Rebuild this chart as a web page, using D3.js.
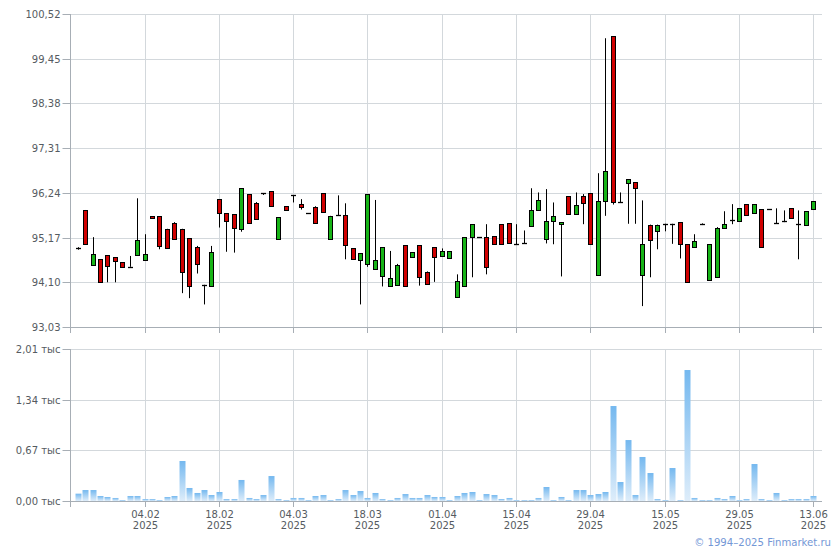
<!DOCTYPE html>
<html>
<head>
<meta charset="utf-8">
<script src="https://cdn.jsdelivr.net/npm/d3@7"></script>
<style>
  html, body { margin: 0; padding: 0; background: #fff; }
  svg text { font-family: "DejaVu Sans", Verdana, sans-serif; }
</style>
</head>
<body>
<svg id="chart" width="840" height="550"></svg>
<script>
// ---------- DATA ----------
const dates = [
  "22.01","23.01","24.01","27.01","28.01","29.01","30.01","31.01",
  "03.02","04.02","05.02","06.02","07.02","10.02","11.02","12.02","13.02","14.02","17.02","18.02",
  "19.02","20.02","21.02","24.02","25.02","26.02","27.02","28.02",
  "03.03","04.03","05.03","06.03","07.03","10.03","11.03","12.03","13.03","14.03","17.03","18.03",
  "19.03","20.03","21.03","24.03","25.03","26.03","27.03","28.03","31.03",
  "01.04","02.04","03.04","04.04","07.04","08.04","09.04","10.04","11.04","14.04","15.04",
  "16.04","17.04","18.04","21.04","22.04","23.04","24.04","25.04","28.04","29.04","30.04",
  "02.05","05.05","06.05","07.05","08.05","12.05","13.05","14.05","15.05",
  "16.05","19.05","20.05","21.05","22.05","23.05","26.05","27.05","28.05","29.05","30.05",
  "02.06","03.06","04.06","05.06","06.06","09.06","10.06","11.06","13.06"
];
const openV = [
  94.92,95.83,94.51,94.65,94.75,94.70,94.58,94.48,94.75,94.63,
  95.68,95.68,95.38,95.51,95.38,95.16,94.94,94.04,94.00,96.09,
  95.75,95.73,95.37,96.21,95.99,96.23,96.28,95.13,95.92,96.18,
  95.97,95.75,95.89,96.23,95.13,95.70,95.70,94.91,94.63,94.53,
  94.41,94.24,94.00,94.03,94.99,94.70,94.99,94.34,94.94,94.72,
  94.68,93.74,94.00,95.18,95.18,95.18,95.20,95.49,95.51,95.01,
  95.03,95.44,95.82,95.13,95.56,95.49,96.16,95.73,96.16,96.23,
  94.27,96.04,99.99,96.01,96.47,96.49,94.27,95.48,95.32,95.50,
  95.50,95.54,95.01,94.94,95.49,94.15,94.22,95.39,95.58,95.56,
  95.97,95.75,95.85,95.85,95.51,95.56,95.87,95.50,95.46,95.85
];
const highV = [
  94.94,95.83,95.18,94.65,94.75,94.70,94.58,94.73,96.11,95.25,
  95.68,95.68,95.38,95.54,95.38,95.16,94.97,94.04,94.97,96.09,
  95.75,95.73,96.35,96.21,96.02,96.23,96.28,95.66,95.92,96.18,
  96.09,95.75,95.92,96.23,95.69,96.18,95.99,94.91,94.79,96.21,
  96.07,94.94,94.85,94.54,94.99,94.82,94.99,94.36,94.94,94.91,
  94.84,94.29,95.18,95.49,95.18,95.49,95.20,95.49,95.51,95.49,
  95.34,96.35,96.25,96.33,96.01,95.54,96.16,96.25,96.21,96.23,
  96.71,99.94,99.99,96.25,96.56,96.49,96.06,95.48,95.48,95.50,
  95.50,95.54,95.01,95.25,95.51,95.01,95.42,95.80,95.97,95.87,
  95.97,95.97,95.85,95.85,95.87,95.82,95.87,95.82,95.80,96.04
];
const lowV = [
  94.88,95.01,94.51,94.10,94.10,94.10,94.47,94.47,94.75,94.63,
  95.63,94.89,94.91,95.13,93.84,93.72,94.31,93.57,94.00,95.41,
  94.83,94.81,95.31,95.51,95.61,96.19,95.93,95.13,95.84,96.01,
  95.84,95.75,95.51,95.79,95.13,95.70,94.65,94.65,93.57,94.47,
  94.41,94.00,94.00,94.03,94.00,94.70,94.02,94.05,94.11,94.72,
  94.68,93.74,94.00,94.22,95.18,94.29,95.01,95.01,95.05,95.01,
  95.03,95.44,95.82,95.03,95.01,94.24,95.73,95.73,95.49,95.01,
  94.27,95.69,95.96,96.01,95.50,95.50,93.53,94.22,94.89,95.32,
  95.02,94.67,94.11,94.94,95.47,94.15,94.22,95.39,95.49,95.56,
  95.70,95.75,94.94,95.85,95.51,95.54,95.63,94.65,95.46,95.85
];
const closeV = [
  94.91,95.01,94.77,94.10,94.49,94.61,94.47,94.47,95.10,94.77,
  95.63,94.96,94.91,95.13,94.35,94.00,94.53,94.04,94.82,95.75,
  95.56,95.39,96.35,95.51,95.61,96.23,95.93,95.66,95.84,96.18,
  95.89,95.75,95.51,95.79,95.69,95.70,94.99,94.65,94.79,96.21,
  94.63,94.94,94.20,94.51,94.00,94.82,94.23,94.05,94.70,94.84,
  94.84,94.12,95.18,95.49,95.18,94.46,95.01,95.01,95.05,95.01,
  95.03,95.82,96.06,95.56,95.68,95.54,95.73,95.94,95.99,95.01,
  96.04,96.76,96.02,96.01,96.56,96.35,95.01,95.10,95.48,95.50,
  95.50,95.01,94.11,95.08,95.49,95.01,95.39,95.49,95.58,95.87,
  95.70,95.97,94.94,95.85,95.51,95.56,95.63,95.50,95.80,96.04
];
const volumeV = [
  97,145,145,66,53,40,13,66,66,26,
  26,13,53,66,529,172,106,145,79,119,
  26,26,278,40,26,79,330,26,13,40,
  40,13,66,79,13,26,145,79,132,40,
  106,26,13,40,92,40,40,79,53,53,
  13,66,106,119,13,92,79,26,40,13,
  13,13,40,185,13,53,13,145,145,79,
  92,119,1256,251,806,79,582,370,26,13,
  436,13,1732,40,13,13,40,26,66,13,
  26,489,26,13,106,13,26,26,26,66
];
const priceTicks = [93.03, 94.10, 95.17, 96.24, 97.31, 98.38, 99.45, 100.52];
const volumeTicks = [0, 670, 1340, 2010];
const xTickDates = ["04.02","18.02","04.03","18.03","01.04","15.04","29.04","15.05","29.05","13.06"];
const tickYear = "2025";

// ---------- LAYOUT ----------
const svg = d3.select("#chart");
const left = 70, right = 822;
const pTop = 14, pBottom = 327;
const vTop = 349, vBottom = 501;
const gridColor = "#d3d8dc";
const axisColor = "#a7aeb5";
const textColor = "#555b61";

const x = d3.scalePoint().domain(dates).range([77.7, 813.3]);
const yP = d3.scaleLinear().domain([93.03, 100.52]).range([pBottom, pTop]);
const yV = d3.scaleLinear().domain([0, 2010]).range([vBottom, vTop]);

const fmt2 = d3.format(".2f");
const comma = v => fmt2(v).replace(".", ",");

// gradient for volume bars
const defs = svg.append("defs");
const grad = defs.append("linearGradient").attr("id", "vgrad")
  .attr("x1", 0).attr("y1", 0).attr("x2", 0).attr("y2", 1);
grad.append("stop").attr("offset", "0%").attr("stop-color", "#74b8ef");
grad.append("stop").attr("offset", "100%").attr("stop-color", "#deedfa");

// ---------- GRIDS ----------
function grid(yScale, ticks, y0, y1) {
  const g = svg.append("g");
  g.selectAll("line.h").data(ticks).join("line")
    .attr("x1", left).attr("x2", right)
    .attr("y1", d => Math.round(yScale(d)) + 0.5).attr("y2", d => Math.round(yScale(d)) + 0.5)
    .attr("stroke", gridColor);
  g.selectAll("line.v").data(xTickDates).join("line")
    .attr("x1", d => Math.round(x(d)) + 0.5).attr("x2", d => Math.round(x(d)) + 0.5)
    .attr("y1", y0).attr("y2", y1)
    .attr("stroke", gridColor);
}
grid(yP, priceTicks, pTop, pBottom);
grid(yV, volumeTicks, vTop, vBottom);

// ---------- AXES ----------
function leftAxis(yScale, ticks, fmt, y0, y1) {
  const ax = d3.axisLeft(yScale).tickValues(ticks).tickFormat(fmt).tickSize(8).tickPadding(2);
  const g = svg.append("g").attr("transform", `translate(${left + 0.5},0)`).call(ax);
  g.select(".domain").remove();
  g.selectAll(".tick line").attr("stroke", axisColor);
  g.selectAll(".tick").attr("transform", d => `translate(0,${Math.round(yScale(d)) + 0.5})`);
  g.selectAll("text").attr("fill", textColor).style("font-size", "10px")
    .style("font-family", "'DejaVu Sans', Verdana, sans-serif");
  svg.append("line").attr("x1", left + 0.5).attr("x2", left + 0.5)
    .attr("y1", y0).attr("y2", y1 + 6).attr("stroke", axisColor);
}
leftAxis(yP, priceTicks, comma, pTop, pBottom);
leftAxis(yV, volumeTicks, v => comma(v / 1000) + " тыс", vTop, vBottom);

function bottomAxis(yPos, withLabels) {
  svg.append("line").attr("x1", left).attr("x2", right)
    .attr("y1", yPos + 0.5).attr("y2", yPos + 0.5).attr("stroke", axisColor);
  const g = svg.append("g");
  g.selectAll("line").data(xTickDates).join("line")
    .attr("x1", d => Math.round(x(d)) + 0.5).attr("x2", d => Math.round(x(d)) + 0.5)
    .attr("y1", yPos).attr("y2", yPos + 6).attr("stroke", axisColor);
  if (withLabels) {
    const t = g.selectAll("text").data(xTickDates).join("text")
      .attr("x", d => Math.round(x(d)) + 0.5)
      .attr("text-anchor", "middle").attr("fill", textColor).style("font-size", "10px");
    t.append("tspan").attr("x", d => Math.round(x(d)) + 0.5).attr("y", yPos + 16.5).text(d => d);
    t.append("tspan").attr("x", d => Math.round(x(d)) + 0.5).attr("y", yPos + 28).text(tickYear);
  }
}
bottomAxis(pBottom, false);
bottomAxis(vBottom, true);

// ---------- CANDLES ----------
const candles = dates.map((d, i) => ({ d, o: openV[i], h: highV[i], l: lowV[i], c: closeV[i] }));
const cg = svg.append("g");
candles.forEach(k => {
  const cx = Math.round(x(k.d));
  const yh = yP(k.h), yl = yP(k.l), yo = yP(k.o), yc = yP(k.c);
  cg.append("line").attr("x1", cx + 0.5).attr("x2", cx + 0.5)
    .attr("y1", yh).attr("y2", yl).attr("stroke", "#000").attr("stroke-width", 1);
  const top = Math.min(yo, yc), bot = Math.max(yo, yc);
  if (bot - top < 1.5) {
    const yy = Math.round((top + bot) / 2) + 0.5;
    cg.append("line").attr("x1", cx - 2).attr("x2", cx + 3)
      .attr("y1", yy).attr("y2", yy).attr("stroke", "#000").attr("stroke-width", 1.3);
  } else {
    cg.append("rect")
      .attr("x", cx - 1.5).attr("width", 4)
      .attr("y", Math.round(top) + 0.5).attr("height", Math.max(1, Math.round(bot) - Math.round(top)))
      .attr("fill", k.c >= k.o ? "#17b417" : "#d00000")
      .attr("stroke", "#000").attr("stroke-width", 1);
  }
});

// ---------- VOLUME ----------
svg.append("g").selectAll("rect").data(dates.map((d, i) => ({ d, v: volumeV[i] }))).join("rect")
  .attr("x", d => Math.round(x(d.d)) - 2.5)
  .attr("width", 6)
  .attr("y", d => yV(d.v))
  .attr("height", d => vBottom - yV(d.v))
  .attr("fill", "url(#vgrad)");

// ---------- COPYRIGHT ----------
svg.append("text").attr("x", 831).attr("y", 546).attr("text-anchor", "end")
  .attr("fill", "#7397d6").style("font-size", "10.1px")
  .text("© 1994–2025 Finmarket.ru");
</script>
</body>
</html>
